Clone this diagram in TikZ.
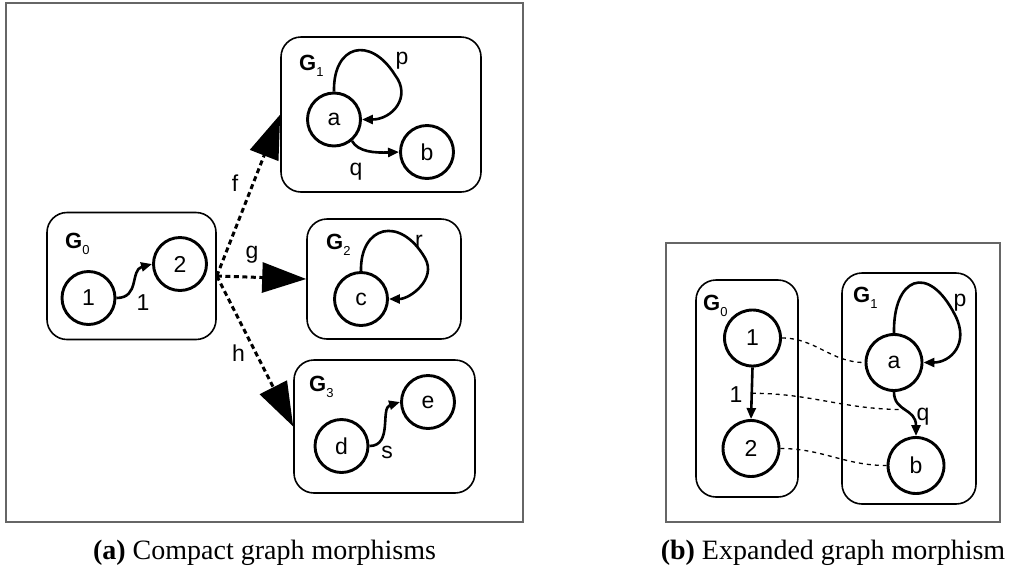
\documentclass[tikz,border=0pt]{standalone}
\usepackage{fontspec}
\setmainfont{Liberation Serif}
\newfontfamily\diagfont{Liberation Sans}
\usetikzlibrary{arrows.meta}

\newcommand{\gsub}[2]{{\fontsize{22}{22}\selectfont\bfseries #1}\raisebox{-6pt}{\fontsize{13}{13}\selectfont #2}}

\begin{document}
\begin{tikzpicture}[x=1pt,y=-1pt,
  panel/.style={draw=black!60, line width=1.1pt},
  gbox/.style={draw, line width=1.6pt, rounded corners=20pt, inner sep=0pt},
  vtx/.style={circle, draw, line width=2.9pt, inner sep=0pt, minimum size=53pt,
    font=\diagfont\fontsize{23}{23}\selectfont},
  vtxb/.style={vtx, minimum size=56pt},
  edgearr/.style={line width=2.6pt, -{Triangle[length=11pt,width=9pt]}},
  elabel/.style={inner sep=0pt, font=\diagfont\fontsize{23}{23}\selectfont},
  gname/.style={inner sep=0pt, anchor=base west, font=\diagfont},
  morph/.style={line width=3pt, dash pattern=on 5pt off 3.5pt,
    -{Triangle[length=44pt,width=30pt]}},
  corr/.style={line width=1.3pt, dash pattern=on 4pt off 4pt},
  caption/.style={inner sep=0pt, anchor=base, font=\fontsize{28}{32}\selectfont}]

\useasboundingbox (0,0) rectangle (1011,574);

% ---------- (a) compact morphisms ----------
\draw[panel] (6,3) rectangle (523,522);

\node[gbox, minimum width=169pt, minimum height=127pt] (g0box) at (131.5,276) {};
\node[gbox, minimum width=200pt, minimum height=155pt] (g1box) at (381,114.5) {};
\node[gbox, minimum width=154pt, minimum height=120pt] (g2box) at (384,279) {};
\node[gbox, minimum width=181pt, minimum height=133pt] (g3box) at (384.5,426.5) {};

\node[gname] (g0name) at (65,248) {\gsub{G}{0}};
\node[gname] (g1name) at (299,70) {\gsub{G}{1}};
\node[gname] (g2name) at (326,249.5) {\gsub{G}{2}};
\node[gname] (g3name) at (309,391.5) {\gsub{G}{3}};

\node[vtx] (n1) at (88.5,298) {1};
\node[vtx] (n2) at (180,264) {2};
\node[vtx] (a) at (334,119.5) {a};
\node[vtx] (b) at (427,152) {b};
\node[vtx] (c) at (361,299) {c};
\node[vtx] (d) at (341.5,446) {d};
\node[vtx] (e) at (428,402) {e};

\draw[edgearr] (n1.east) .. controls (140,298) and (130,270) .. (n2.west);
\draw[edgearr] (a.north) .. controls (333,45) and (370,35) .. (395,75)
  .. controls (412,97) and (392,119.5) .. (a.east);
\draw[edgearr] (a.-50) .. controls (358,152) and (375,153) .. (b.west);
\draw[edgearr] (c.north) .. controls (360,226) and (400,215) .. (425,258)
  .. controls (437,279) and (410,299) .. (c.east);
\draw[edgearr] (d.east) .. controls (393,446) and (380,408) .. (e.west);

\node[elabel] (l1) at (143,303) {1};
\node[elabel] (lp) at (402,61) {p};
\node[elabel] (lq) at (356,172) {q};
\node[elabel] (lr) at (419,241) {r};
\node[elabel] (ls) at (387,452) {s};

\draw[morph] (g0box.east) -- (g1box.west);
\draw[morph] (g0box.east) -- (g2box.west);
\draw[morph] (g0box.east) -- (g3box.west);

\node[elabel] (lf) at (235,183) {f};
\node[elabel] (lg) at (252,255) {g};
\node[elabel] (lh) at (238.5,353) {h};

\node[caption] (capa) at (264.5,559) {\textbf{(a)} Compact graph morphisms};

% ---------- (b) expanded morphism ----------
\draw[panel] (666,243) rectangle (1000,522);

\node[gbox, minimum width=102pt, minimum height=217pt] (h0box) at (747,388.5) {};
\node[gbox, minimum width=134pt, minimum height=231pt] (h1box) at (909,388.5) {};

\node[gname] (h0name) at (703,310) {\gsub{G}{0}};
\node[gname] (h1name) at (853,302) {\gsub{G}{1}};

\node[vtxb] (m1) at (752.5,338) {1};
\node[vtxb] (m2) at (751,448.5) {2};
\node[vtxb] (ma) at (894,362.5) {a};
\node[vtxb] (mb) at (916,465.5) {b};

\draw[edgearr] (m1.south) -- coordinate[pos=0.5] (m12mid) (m2.north);
\draw[edgearr] (ma.north) .. controls (893,278) and (928,262) .. (955,315)
  .. controls (970,344) and (950,362.5) .. (ma.east);
\draw[edgearr] (ma.south) .. controls (894,412) and (916,408)
  .. coordinate[pos=0.45] (qmid) (mb.north);

\node[elabel] (k1) at (736,395) {1};
\node[elabel] (kp) at (960,303) {p};
\node[elabel] (kq) at (923,417) {q};

\draw[corr] (m1.east) to[out=0,in=180] (ma.west);
\draw[corr] (m12mid) to[out=0,in=180] (qmid);
\draw[corr] (m2.east) to[out=0,in=180] (mb.west);

\node[caption] (capb) at (833,559) {\textbf{(b)} Expanded graph morphism};
\end{tikzpicture}
\end{document}
